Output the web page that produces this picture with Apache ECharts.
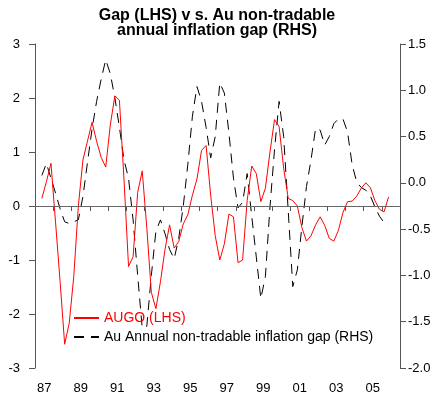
<!DOCTYPE html>
<html>
<head>
<meta charset="utf-8">
<script src="https://cdn.jsdelivr.net/npm/echarts@6/dist/echarts.min.js"></script>
<style>
  html, body { margin: 0; padding: 0; background: #fff; }
  #chart { width: 434px; height: 401px; }
</style>
</head>
<body>
<div id="chart"></div>
<script>
// quarterly data, first value is 1987 Q2
const startYear = 1987;
const firstQuarter = 1;
const yearLabels = ['87', '88', '89', '90', '91', '92', '93', '94', '95', '96',
                    '97', '98', '99', '00', '01', '02', '03', '04', '05', '06'];

const augo = [
  0.14, 0.45, 0.79, -0.3, -1.4, -2.56, -2.17, -1.3, 0.0, 0.85,
  1.2, 1.55, 1.2, 0.9, 0.72, 1.5, 2.04, 1.96, 0.5, -1.12,
  -0.94, 0.25, 0.65, -0.4, -1.6, -1.9, -1.4, -0.8, -0.35, -0.78,
  -0.66, -0.33, -0.16, 0.2, 0.5, 1.03, 1.12, 0.2, -0.55, -1.0,
  -0.7, -0.15, -0.2, -1.05, -1.0, 0.1, 0.74, 0.6, 0.08, 0.33,
  1.0, 1.6, 1.47, 0.7, 0.14, 0.1, 0.0, -0.4, -0.65, -0.55,
  -0.35, -0.2, -0.36, -0.6, -0.65, -0.45, -0.12, 0.08, 0.09, 0.18,
  0.33, 0.43, 0.34, 0.1, -0.06, -0.11, 0.17
];

const nonTradable = [
  0.08, 0.21, 0.05, -0.11, -0.28, -0.42, -0.44, -0.42, -0.4, -0.15,
  0.22, 0.58, 0.88, 1.12, 1.33, 1.18, 0.92, 0.6, 0.25, 0.05,
  -0.4, -1.0, -1.57, -1.55, -1.0, -0.52, -0.4, -0.55, -0.72, -0.82,
  -0.6, -0.25, 0.2, 0.72, 1.04, 0.88, 0.6, 0.27, 0.5, 1.08,
  0.97, 0.54, 0.05, -0.27, -0.21, 0.1, -0.36, -0.8, -1.25, -1.01,
  -0.26, 0.36, 0.88, 0.5, -0.3, -1.12, -0.94, -0.47, -0.04, 0.25,
  0.59, 0.57, 0.41, 0.5, 0.64, 0.69, 0.69, 0.55, 0.2, 0.01,
  -0.05, -0.08, -0.14, -0.26, -0.36, -0.43, -0.45
];

const toPoints = (vals) => vals.map((v, i) => [startYear + (firstQuarter + i + 0.5) / 4, v]);

const font = '"Liberation Sans", Arial, sans-serif';
const axisColor = '#555';
const dash = [10, 7];

const chart = echarts.init(document.getElementById('chart'));
chart.setOption({
  animation: false,
  textStyle: { fontFamily: font },
  title: {
    text: 'Gap (LHS) v s. Au non-tradable\nannual inflation gap (RHS)',
    left: 'center',
    top: 3,
    textStyle: { fontSize: 16, fontWeight: 'bold', color: '#000', lineHeight: 15, fontFamily: font }
  },
  legend: {
    orient: 'vertical',
    left: 73,
    top: 311,
    padding: 0,
    itemWidth: 25,
    itemHeight: 14,
    itemGap: 5,
    itemStyle: { opacity: 0 },
    textStyle: { fontSize: 14, fontFamily: font, color: '#000' },
    data: [
      { name: 'AUGO (LHS)', textStyle: { color: '#ff0000' } },
      { name: 'Au Annual non-tradable inflation gap (RHS)', lineStyle: { type: dash } }
    ]
  },
  grid: { left: 35, right: 34, top: 44, bottom: 33 },
  xAxis: [
    {
      type: 'value', min: 1987, max: 2007, interval: 1,
      position: 'bottom',
      axisLine: { show: true, lineStyle: { color: axisColor } },
      axisTick: { show: true, length: 5, lineStyle: { color: axisColor } },
      axisLabel: { show: false },
      splitLine: { show: false }
    },
    {
      type: 'category', data: yearLabels, boundaryGap: true,
      position: 'bottom',
      axisLine: { show: false },
      axisTick: { show: false },
      axisLabel: { interval: 1, margin: 14, fontSize: 13, color: '#000', fontFamily: font },
      splitLine: { show: false }
    }
  ],
  yAxis: [
    {
      type: 'value', min: -3, max: 3, interval: 1, position: 'left',
      axisLine: { show: true, lineStyle: { color: axisColor } },
      axisTick: { show: true, length: 6, lineStyle: { color: axisColor } },
      axisLabel: { margin: 15, fontSize: 13, color: '#000', fontFamily: font },
      splitLine: { show: false }
    },
    {
      type: 'value', min: -2, max: 1.5, interval: 0.5, position: 'right',
      axisLine: { show: true, lineStyle: { color: axisColor } },
      axisTick: { show: true, length: 6, lineStyle: { color: axisColor } },
      axisLabel: { margin: 8, fontSize: 13, color: '#000', fontFamily: font, formatter: (v) => v.toFixed(1) },
      splitLine: { show: false }
    }
  ],
  series: [
    {
      name: 'AUGO (LHS)', type: 'line', xAxisIndex: 0, yAxisIndex: 0,
      symbol: 'none', data: toPoints(augo), z: 3,
      lineStyle: { color: '#ff0000', width: 1 },
      itemStyle: { color: '#ff0000' },
      markLine: {
        silent: true, symbol: 'none', label: { show: false },
        lineStyle: { color: '#666', width: 1, type: 'solid' },
        data: [{ yAxis: 0 }]
      }
    },
    {
      name: 'Au Annual non-tradable inflation gap (RHS)', type: 'line', xAxisIndex: 0, yAxisIndex: 1,
      symbol: 'none', data: toPoints(nonTradable), z: 2,
      lineStyle: { color: '#000', width: 1, type: dash },
      itemStyle: { color: '#000' }
    }
  ]
});
</script>
</body>
</html>
